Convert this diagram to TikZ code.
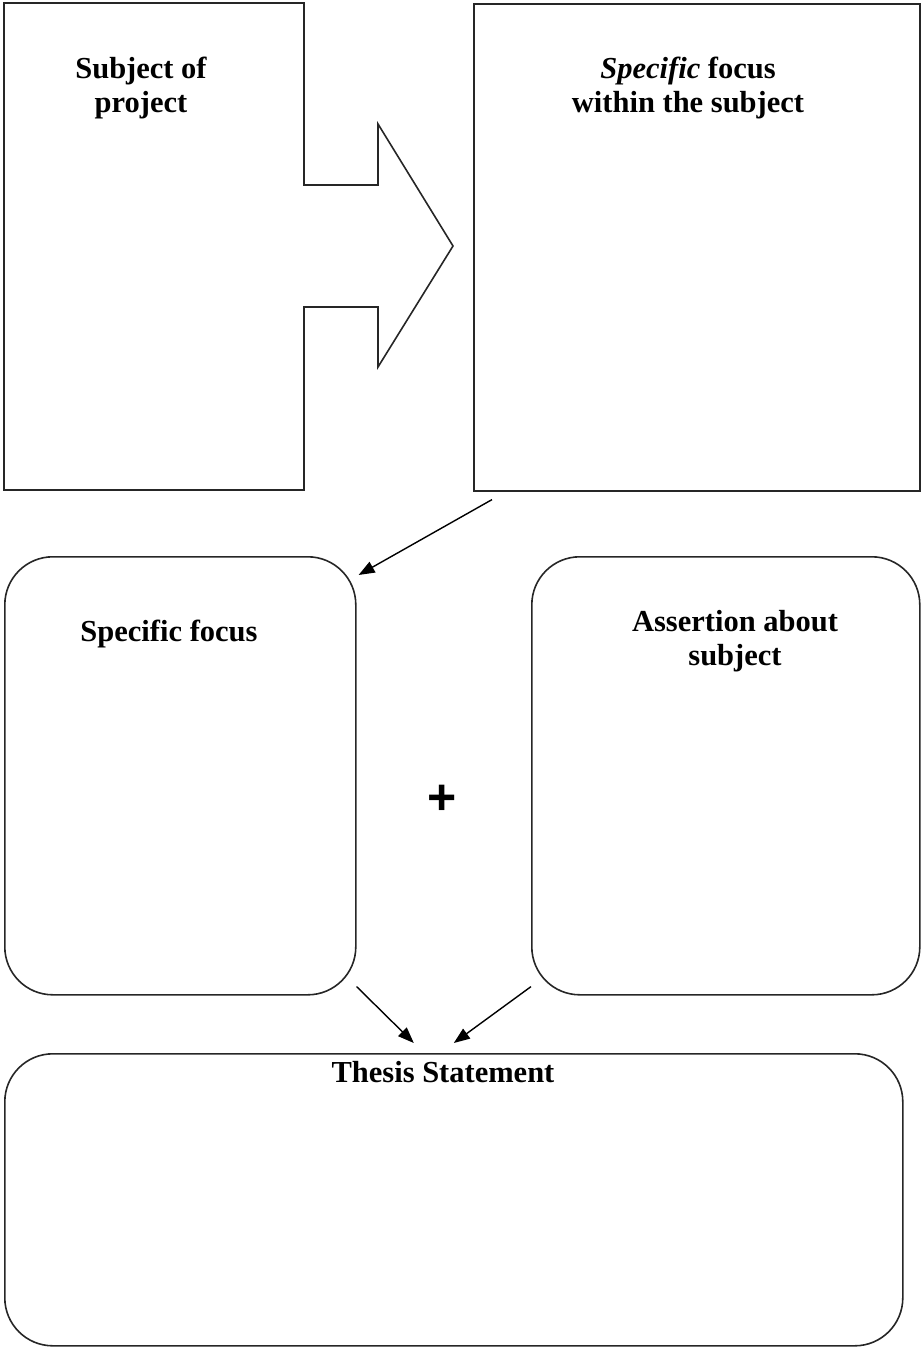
\documentclass[tikz,border=0pt]{standalone}
\usepackage{fontspec}
\setmainfont{Liberation Serif}
\newfontfamily\plusfont{Liberation Sans}
\usetikzlibrary{arrows.meta}
\begin{document}
\begin{tikzpicture}[x=1pt,y=-1pt,
  outline/.style={draw=black!85, line width=1.6pt},
  roundbox/.style={outline, rounded corners=48pt, inner sep=0pt, anchor=north west},
  plainbox/.style={outline, inner sep=0pt, anchor=north west},
  caption/.style={font=\fontsize{30.5}{34.5}\selectfont\bfseries, align=center, inner sep=0pt},
  link/.style={line width=1.4pt, -{Triangle[length=16pt,width=12pt]}}]
\useasboundingbox (0,0) rectangle (922,1348);

% subject panel merged with the block arrow pointing right
\draw[outline, line join=miter] (304,185) -- (304,3) -- (4,3) -- (4,490) -- (304,490)
  -- (304,307) -- (378,307) -- (378,367) -- (453,246) -- (378,124) -- (378,185) -- cycle;
\node[caption] (subject) at (141,88) {Subject of\\project};

% specific focus panel
\node[plainbox, minimum width=446pt, minimum height=487pt] (focus) at (473,3) {};
\node[caption] (focustxt) at (688,88) {\textit{Specific} focus\\within the subject};

% the two rounded boxes
\node[roundbox, minimum width=351pt, minimum height=438pt] (spec) at (4,556) {};
\node[caption] (spectxt) at (169,634) {Specific focus};
\node[roundbox, minimum width=388pt, minimum height=438pt] (assert) at (531,556) {};
\node[caption] (asserttxt) at (735,641) {Assertion about\\subject};
\node[font=\plusfont\bfseries\fontsize{50}{50}\selectfont, inner sep=0pt] (plus) at (442,800) {+};

% thesis box with its title breaking the top edge
\node[roundbox, minimum width=898pt, minimum height=292pt] (thesis) at (4,1053) {};
\node[caption, fill=white, inner xsep=14pt, inner ysep=6pt] (thesistxt) at (443,1072) {Thesis Statement};

% connectors
\draw[link] ([shift={(19,8)}]focus.south west) -- ([shift={(2,19)}]spec.north east);
\draw[link] ([shift={(0,-9)}]spec.south east) -- ([shift={(-40,-10)}]thesis.north);
\draw[link] ([shift={(0,-9)}]assert.south west) -- ([shift={(0,-10)}]thesis.north);
\end{tikzpicture}
\end{document}
